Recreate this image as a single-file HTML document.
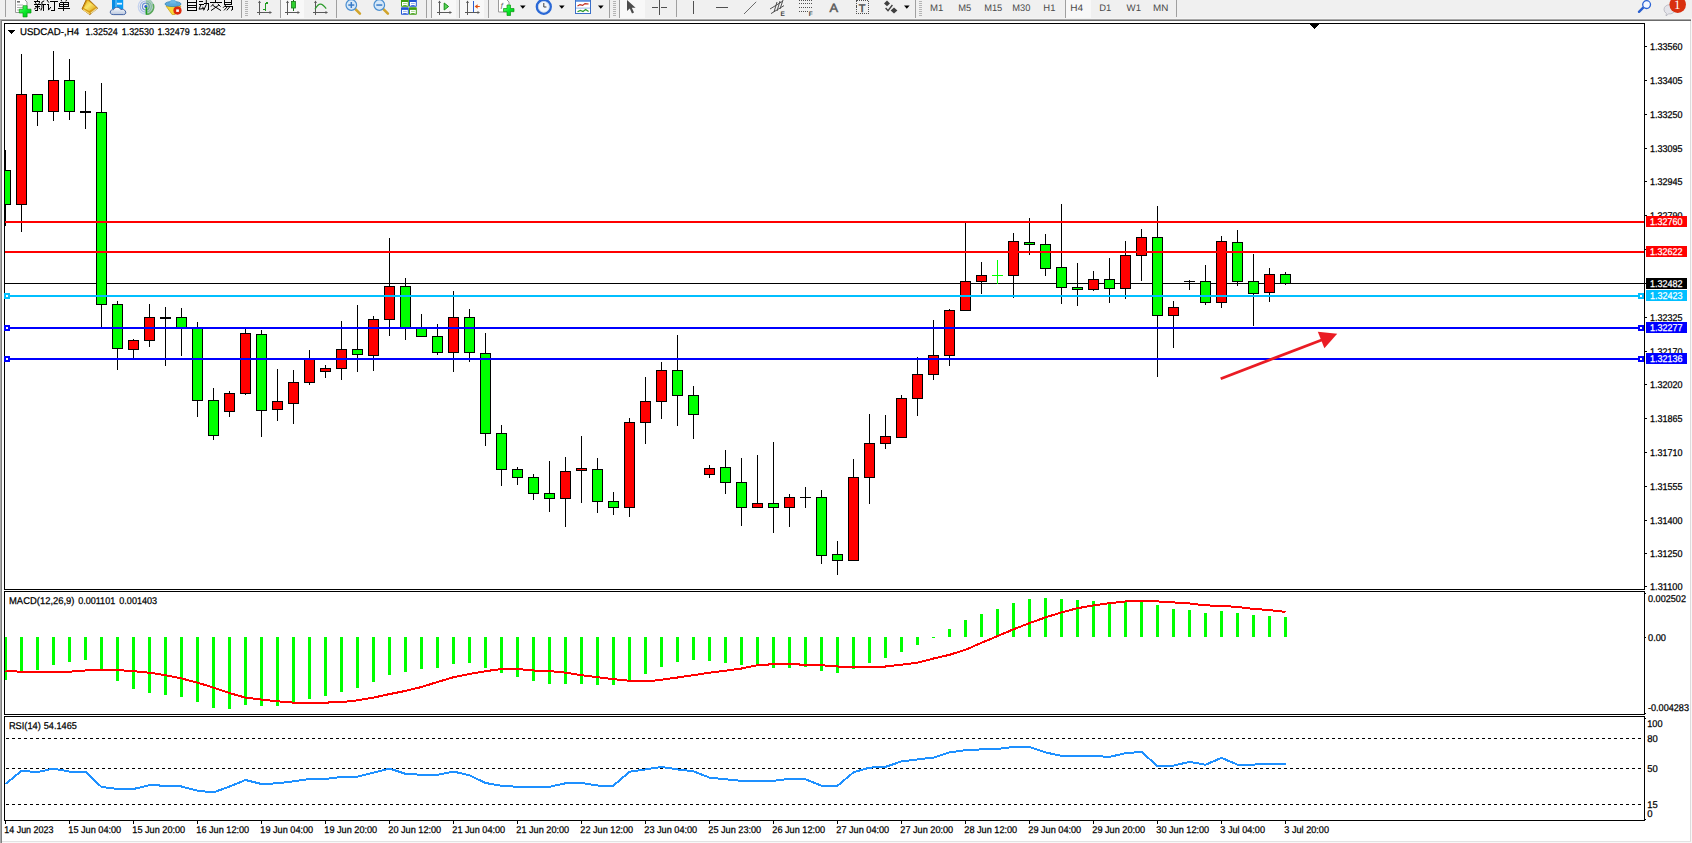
<!DOCTYPE html><html><head><meta charset="utf-8"><title>USDCAD H4</title>
<style>html,body{margin:0;padding:0;background:#fff;overflow:hidden}body{width:1692px;height:843px;position:relative;font-family:"Liberation Sans",sans-serif}svg{position:absolute;left:0;top:0;display:block}text{text-rendering:geometricPrecision;font-family:"Liberation Sans",sans-serif}</style></head><body>
<svg width="1692" height="843" viewBox="0 0 1692 843">
<rect x="0" y="0" width="1692" height="843" fill="#fff"/>
<g shape-rendering="crispEdges">
<rect x="0" y="0" width="1692" height="19" fill="#f0f0f0"/>
<rect x="0" y="19" width="1691" height="1" fill="#a8a8a8"/>
<rect x="0" y="20" width="1691" height="1" fill="#6b6b6b"/>
<rect x="0" y="18" width="1692" height="1" fill="#f5f5f5"/>
<rect x="0" y="19" width="1" height="824" fill="#a9a9a9"/>
<rect x="1" y="20" width="1" height="823" fill="#7f7f7f"/>
<rect x="1690" y="21" width="1" height="822" fill="#dcdcdc"/>
<rect x="1691" y="19" width="1" height="824" fill="#f8f8f8"/>
<rect x="2" y="841" width="1689" height="1" fill="#e3e3e3"/>
<rect x="2" y="842" width="1690" height="1" fill="#f8f8f8"/>
<rect x="4" y="23" width="1" height="567" fill="#000"/>
<rect x="4" y="591" width="1" height="124" fill="#000"/>
<rect x="4" y="716" width="1" height="105" fill="#000"/>
<rect x="1644" y="23" width="1" height="567" fill="#000"/>
<rect x="1644" y="591" width="1" height="124" fill="#000"/>
<rect x="1644" y="716" width="1" height="105" fill="#000"/>
<rect x="4" y="23" width="1641" height="1" fill="#000"/>
<rect x="4" y="589" width="1641" height="1" fill="#000"/>
<rect x="4" y="591" width="1641" height="1" fill="#000"/>
<rect x="4" y="714" width="1641" height="1" fill="#000"/>
<rect x="4" y="716" width="1641" height="1" fill="#000"/>
<rect x="4" y="820" width="1641" height="1" fill="#000"/>
</g>
<g shape-rendering="crispEdges">
<rect x="5" y="283" width="1639" height="1" fill="#000"/>
<rect x="5" y="150" width="1" height="76" fill="#000"/>
<rect x="5" y="170" width="6" height="35" fill="#000"/>
<rect x="5" y="171" width="5" height="33" fill="#00ff00"/>
<rect x="21" y="54" width="1" height="178" fill="#000"/>
<rect x="16" y="94" width="11" height="111" fill="#000"/>
<rect x="17" y="95" width="9" height="109" fill="#ff0000"/>
<rect x="37" y="94" width="1" height="32" fill="#000"/>
<rect x="32" y="94" width="11" height="18" fill="#000"/>
<rect x="33" y="95" width="9" height="16" fill="#00ff00"/>
<rect x="53" y="51" width="1" height="70" fill="#000"/>
<rect x="48" y="80" width="11" height="32" fill="#000"/>
<rect x="49" y="81" width="9" height="30" fill="#ff0000"/>
<rect x="69" y="59" width="1" height="61" fill="#000"/>
<rect x="64" y="80" width="11" height="32" fill="#000"/>
<rect x="65" y="81" width="9" height="30" fill="#00ff00"/>
<rect x="85" y="91" width="1" height="38" fill="#000"/>
<rect x="80" y="111" width="11" height="2" fill="#000"/>
<rect x="101" y="83" width="1" height="246" fill="#000"/>
<rect x="96" y="112" width="11" height="193" fill="#000"/>
<rect x="97" y="113" width="9" height="191" fill="#00ff00"/>
<rect x="117" y="301" width="1" height="69" fill="#000"/>
<rect x="112" y="304" width="11" height="45" fill="#000"/>
<rect x="113" y="305" width="9" height="43" fill="#00ff00"/>
<rect x="133" y="339" width="1" height="19" fill="#000"/>
<rect x="128" y="340" width="11" height="10" fill="#000"/>
<rect x="129" y="341" width="9" height="8" fill="#ff0000"/>
<rect x="149" y="304" width="1" height="43" fill="#000"/>
<rect x="144" y="317" width="11" height="24" fill="#000"/>
<rect x="145" y="318" width="9" height="22" fill="#ff0000"/>
<rect x="165" y="307" width="1" height="59" fill="#000"/>
<rect x="160" y="317" width="11" height="2" fill="#000"/>
<rect x="181" y="308" width="1" height="48" fill="#000"/>
<rect x="176" y="317" width="11" height="11" fill="#000"/>
<rect x="177" y="318" width="9" height="9" fill="#00ff00"/>
<rect x="197" y="322" width="1" height="95" fill="#000"/>
<rect x="192" y="328" width="11" height="73" fill="#000"/>
<rect x="193" y="329" width="9" height="71" fill="#00ff00"/>
<rect x="213" y="388" width="1" height="52" fill="#000"/>
<rect x="208" y="400" width="11" height="36" fill="#000"/>
<rect x="209" y="401" width="9" height="34" fill="#00ff00"/>
<rect x="229" y="391" width="1" height="26" fill="#000"/>
<rect x="224" y="393" width="11" height="19" fill="#000"/>
<rect x="225" y="394" width="9" height="17" fill="#ff0000"/>
<rect x="245" y="329" width="1" height="66" fill="#000"/>
<rect x="240" y="333" width="11" height="61" fill="#000"/>
<rect x="241" y="334" width="9" height="59" fill="#ff0000"/>
<rect x="261" y="330" width="1" height="107" fill="#000"/>
<rect x="256" y="334" width="11" height="77" fill="#000"/>
<rect x="257" y="335" width="9" height="75" fill="#00ff00"/>
<rect x="277" y="369" width="1" height="52" fill="#000"/>
<rect x="272" y="401" width="11" height="9" fill="#000"/>
<rect x="273" y="402" width="9" height="7" fill="#ff0000"/>
<rect x="293" y="370" width="1" height="54" fill="#000"/>
<rect x="288" y="382" width="11" height="22" fill="#000"/>
<rect x="289" y="383" width="9" height="20" fill="#ff0000"/>
<rect x="309" y="350" width="1" height="35" fill="#000"/>
<rect x="304" y="359" width="11" height="24" fill="#000"/>
<rect x="305" y="360" width="9" height="22" fill="#ff0000"/>
<rect x="325" y="365" width="1" height="13" fill="#000"/>
<rect x="320" y="368" width="11" height="4" fill="#000"/>
<rect x="321" y="369" width="9" height="2" fill="#ff0000"/>
<rect x="341" y="321" width="1" height="59" fill="#000"/>
<rect x="336" y="349" width="11" height="20" fill="#000"/>
<rect x="337" y="350" width="9" height="18" fill="#ff0000"/>
<rect x="357" y="305" width="1" height="67" fill="#000"/>
<rect x="352" y="349" width="11" height="6" fill="#000"/>
<rect x="353" y="350" width="9" height="4" fill="#00ff00"/>
<rect x="373" y="316" width="1" height="55" fill="#000"/>
<rect x="368" y="319" width="11" height="37" fill="#000"/>
<rect x="369" y="320" width="9" height="35" fill="#ff0000"/>
<rect x="389" y="238" width="1" height="98" fill="#000"/>
<rect x="384" y="286" width="11" height="34" fill="#000"/>
<rect x="385" y="287" width="9" height="32" fill="#ff0000"/>
<rect x="405" y="278" width="1" height="62" fill="#000"/>
<rect x="400" y="286" width="11" height="42" fill="#000"/>
<rect x="401" y="287" width="9" height="40" fill="#00ff00"/>
<rect x="421" y="314" width="1" height="23" fill="#000"/>
<rect x="416" y="327" width="11" height="10" fill="#000"/>
<rect x="417" y="328" width="9" height="8" fill="#00ff00"/>
<rect x="437" y="324" width="1" height="31" fill="#000"/>
<rect x="432" y="336" width="11" height="17" fill="#000"/>
<rect x="433" y="337" width="9" height="15" fill="#00ff00"/>
<rect x="453" y="291" width="1" height="81" fill="#000"/>
<rect x="448" y="317" width="11" height="36" fill="#000"/>
<rect x="449" y="318" width="9" height="34" fill="#ff0000"/>
<rect x="469" y="309" width="1" height="53" fill="#000"/>
<rect x="464" y="317" width="11" height="36" fill="#000"/>
<rect x="465" y="318" width="9" height="34" fill="#00ff00"/>
<rect x="485" y="333" width="1" height="113" fill="#000"/>
<rect x="480" y="353" width="11" height="81" fill="#000"/>
<rect x="481" y="354" width="9" height="79" fill="#00ff00"/>
<rect x="501" y="425" width="1" height="61" fill="#000"/>
<rect x="496" y="433" width="11" height="37" fill="#000"/>
<rect x="497" y="434" width="9" height="35" fill="#00ff00"/>
<rect x="517" y="467" width="1" height="18" fill="#000"/>
<rect x="512" y="469" width="11" height="9" fill="#000"/>
<rect x="513" y="470" width="9" height="7" fill="#00ff00"/>
<rect x="533" y="474" width="1" height="26" fill="#000"/>
<rect x="528" y="477" width="11" height="17" fill="#000"/>
<rect x="529" y="478" width="9" height="15" fill="#00ff00"/>
<rect x="549" y="461" width="1" height="51" fill="#000"/>
<rect x="544" y="493" width="11" height="6" fill="#000"/>
<rect x="545" y="494" width="9" height="4" fill="#00ff00"/>
<rect x="565" y="457" width="1" height="70" fill="#000"/>
<rect x="560" y="471" width="11" height="28" fill="#000"/>
<rect x="561" y="472" width="9" height="26" fill="#ff0000"/>
<rect x="581" y="436" width="1" height="67" fill="#000"/>
<rect x="576" y="468" width="11" height="3" fill="#000"/>
<rect x="577" y="469" width="9" height="1" fill="#ff0000"/>
<rect x="597" y="458" width="1" height="55" fill="#000"/>
<rect x="592" y="469" width="11" height="33" fill="#000"/>
<rect x="593" y="470" width="9" height="31" fill="#00ff00"/>
<rect x="613" y="492" width="1" height="23" fill="#000"/>
<rect x="608" y="501" width="11" height="7" fill="#000"/>
<rect x="609" y="502" width="9" height="5" fill="#00ff00"/>
<rect x="629" y="418" width="1" height="99" fill="#000"/>
<rect x="624" y="422" width="11" height="86" fill="#000"/>
<rect x="625" y="423" width="9" height="84" fill="#ff0000"/>
<rect x="645" y="377" width="1" height="67" fill="#000"/>
<rect x="640" y="401" width="11" height="22" fill="#000"/>
<rect x="641" y="402" width="9" height="20" fill="#ff0000"/>
<rect x="661" y="362" width="1" height="57" fill="#000"/>
<rect x="656" y="370" width="11" height="32" fill="#000"/>
<rect x="657" y="371" width="9" height="30" fill="#ff0000"/>
<rect x="677" y="335" width="1" height="91" fill="#000"/>
<rect x="672" y="370" width="11" height="26" fill="#000"/>
<rect x="673" y="371" width="9" height="24" fill="#00ff00"/>
<rect x="693" y="386" width="1" height="53" fill="#000"/>
<rect x="688" y="395" width="11" height="20" fill="#000"/>
<rect x="689" y="396" width="9" height="18" fill="#00ff00"/>
<rect x="709" y="465" width="1" height="13" fill="#000"/>
<rect x="704" y="468" width="11" height="7" fill="#000"/>
<rect x="705" y="469" width="9" height="5" fill="#ff0000"/>
<rect x="725" y="450" width="1" height="44" fill="#000"/>
<rect x="720" y="467" width="11" height="16" fill="#000"/>
<rect x="721" y="468" width="9" height="14" fill="#00ff00"/>
<rect x="741" y="458" width="1" height="68" fill="#000"/>
<rect x="736" y="482" width="11" height="26" fill="#000"/>
<rect x="737" y="483" width="9" height="24" fill="#00ff00"/>
<rect x="757" y="455" width="1" height="53" fill="#000"/>
<rect x="752" y="503" width="11" height="5" fill="#000"/>
<rect x="753" y="504" width="9" height="3" fill="#ff0000"/>
<rect x="773" y="442" width="1" height="91" fill="#000"/>
<rect x="768" y="503" width="11" height="5" fill="#000"/>
<rect x="769" y="504" width="9" height="3" fill="#00ff00"/>
<rect x="789" y="494" width="1" height="33" fill="#000"/>
<rect x="784" y="497" width="11" height="11" fill="#000"/>
<rect x="785" y="498" width="9" height="9" fill="#ff0000"/>
<rect x="805" y="487" width="1" height="21" fill="#000"/>
<rect x="800" y="497" width="11" height="1" fill="#000"/>
<rect x="821" y="490" width="1" height="74" fill="#000"/>
<rect x="816" y="497" width="11" height="59" fill="#000"/>
<rect x="817" y="498" width="9" height="57" fill="#00ff00"/>
<rect x="837" y="541" width="1" height="34" fill="#000"/>
<rect x="832" y="554" width="11" height="7" fill="#000"/>
<rect x="833" y="555" width="9" height="5" fill="#00ff00"/>
<rect x="853" y="459" width="1" height="102" fill="#000"/>
<rect x="848" y="477" width="11" height="84" fill="#000"/>
<rect x="849" y="478" width="9" height="82" fill="#ff0000"/>
<rect x="869" y="414" width="1" height="90" fill="#000"/>
<rect x="864" y="443" width="11" height="35" fill="#000"/>
<rect x="865" y="444" width="9" height="33" fill="#ff0000"/>
<rect x="885" y="415" width="1" height="34" fill="#000"/>
<rect x="880" y="436" width="11" height="8" fill="#000"/>
<rect x="881" y="437" width="9" height="6" fill="#ff0000"/>
<rect x="901" y="395" width="1" height="43" fill="#000"/>
<rect x="896" y="398" width="11" height="40" fill="#000"/>
<rect x="897" y="399" width="9" height="38" fill="#ff0000"/>
<rect x="917" y="357" width="1" height="59" fill="#000"/>
<rect x="912" y="374" width="11" height="25" fill="#000"/>
<rect x="913" y="375" width="9" height="23" fill="#ff0000"/>
<rect x="933" y="320" width="1" height="60" fill="#000"/>
<rect x="928" y="355" width="11" height="20" fill="#000"/>
<rect x="929" y="356" width="9" height="18" fill="#ff0000"/>
<rect x="949" y="309" width="1" height="57" fill="#000"/>
<rect x="944" y="310" width="11" height="46" fill="#000"/>
<rect x="945" y="311" width="9" height="44" fill="#ff0000"/>
<rect x="965" y="222" width="1" height="89" fill="#000"/>
<rect x="960" y="281" width="11" height="30" fill="#000"/>
<rect x="961" y="282" width="9" height="28" fill="#ff0000"/>
<rect x="981" y="262" width="1" height="32" fill="#000"/>
<rect x="976" y="275" width="11" height="7" fill="#000"/>
<rect x="977" y="276" width="9" height="5" fill="#ff0000"/>
<rect x="997" y="260" width="1" height="24" fill="#00ff00"/>
<rect x="992" y="275" width="11" height="1" fill="#00ff00"/>
<rect x="1013" y="233" width="1" height="65" fill="#000"/>
<rect x="1008" y="241" width="11" height="35" fill="#000"/>
<rect x="1009" y="242" width="9" height="33" fill="#ff0000"/>
<rect x="1029" y="218" width="1" height="37" fill="#000"/>
<rect x="1024" y="242" width="11" height="3" fill="#000"/>
<rect x="1025" y="243" width="9" height="1" fill="#00ff00"/>
<rect x="1045" y="234" width="1" height="42" fill="#000"/>
<rect x="1040" y="244" width="11" height="25" fill="#000"/>
<rect x="1041" y="245" width="9" height="23" fill="#00ff00"/>
<rect x="1061" y="204" width="1" height="100" fill="#000"/>
<rect x="1056" y="267" width="11" height="21" fill="#000"/>
<rect x="1057" y="268" width="9" height="19" fill="#00ff00"/>
<rect x="1077" y="263" width="1" height="43" fill="#000"/>
<rect x="1072" y="287" width="11" height="3" fill="#000"/>
<rect x="1073" y="288" width="9" height="1" fill="#00ff00"/>
<rect x="1093" y="271" width="1" height="20" fill="#000"/>
<rect x="1088" y="279" width="11" height="11" fill="#000"/>
<rect x="1089" y="280" width="9" height="9" fill="#ff0000"/>
<rect x="1109" y="258" width="1" height="45" fill="#000"/>
<rect x="1104" y="279" width="11" height="10" fill="#000"/>
<rect x="1105" y="280" width="9" height="8" fill="#00ff00"/>
<rect x="1125" y="241" width="1" height="58" fill="#000"/>
<rect x="1120" y="255" width="11" height="34" fill="#000"/>
<rect x="1121" y="256" width="9" height="32" fill="#ff0000"/>
<rect x="1141" y="229" width="1" height="52" fill="#000"/>
<rect x="1136" y="237" width="11" height="19" fill="#000"/>
<rect x="1137" y="238" width="9" height="17" fill="#ff0000"/>
<rect x="1157" y="206" width="1" height="171" fill="#000"/>
<rect x="1152" y="237" width="11" height="79" fill="#000"/>
<rect x="1153" y="238" width="9" height="77" fill="#00ff00"/>
<rect x="1173" y="301" width="1" height="47" fill="#000"/>
<rect x="1168" y="307" width="11" height="9" fill="#000"/>
<rect x="1169" y="308" width="9" height="7" fill="#ff0000"/>
<rect x="1189" y="280" width="1" height="10" fill="#000"/>
<rect x="1184" y="281" width="11" height="1" fill="#000"/>
<rect x="1205" y="265" width="1" height="40" fill="#000"/>
<rect x="1200" y="281" width="11" height="22" fill="#000"/>
<rect x="1201" y="282" width="9" height="20" fill="#00ff00"/>
<rect x="1221" y="236" width="1" height="72" fill="#000"/>
<rect x="1216" y="241" width="11" height="62" fill="#000"/>
<rect x="1217" y="242" width="9" height="60" fill="#ff0000"/>
<rect x="1237" y="230" width="1" height="56" fill="#000"/>
<rect x="1232" y="242" width="11" height="40" fill="#000"/>
<rect x="1233" y="243" width="9" height="38" fill="#00ff00"/>
<rect x="1253" y="254" width="1" height="72" fill="#000"/>
<rect x="1248" y="281" width="11" height="13" fill="#000"/>
<rect x="1249" y="282" width="9" height="11" fill="#00ff00"/>
<rect x="1269" y="268" width="1" height="34" fill="#000"/>
<rect x="1264" y="274" width="11" height="19" fill="#000"/>
<rect x="1265" y="275" width="9" height="17" fill="#ff0000"/>
<rect x="1285" y="272" width="1" height="13" fill="#000"/>
<rect x="1280" y="274" width="11" height="10" fill="#000"/>
<rect x="1281" y="275" width="9" height="8" fill="#00ff00"/>
</g>
<g shape-rendering="crispEdges">
<rect x="5" y="221" width="1639" height="2" fill="#ff0000"/>
<rect x="5" y="251" width="1639" height="2" fill="#ff0000"/>
<rect x="5" y="295" width="1639" height="2" fill="#00bfff"/>
<rect x="4" y="293" width="6" height="6" fill="#00bfff"/>
<rect x="6" y="295" width="2" height="2" fill="#fff"/>
<rect x="1638" y="293" width="6" height="6" fill="#00bfff"/>
<rect x="1640" y="295" width="2" height="2" fill="#fff"/>
<rect x="5" y="327" width="1639" height="2" fill="#0000ff"/>
<rect x="4" y="325" width="6" height="6" fill="#0000ff"/>
<rect x="6" y="327" width="2" height="2" fill="#fff"/>
<rect x="1638" y="325" width="6" height="6" fill="#0000ff"/>
<rect x="1640" y="327" width="2" height="2" fill="#fff"/>
<rect x="5" y="358" width="1639" height="2" fill="#0000ff"/>
<rect x="4" y="356" width="6" height="6" fill="#0000ff"/>
<rect x="6" y="358" width="2" height="2" fill="#fff"/>
<rect x="1638" y="356" width="6" height="6" fill="#0000ff"/>
<rect x="1640" y="358" width="2" height="2" fill="#fff"/>
</g>
<g shape-rendering="crispEdges">
<rect x="1645" y="46" width="2" height="1" fill="#000"/>
<rect x="1645" y="80" width="2" height="1" fill="#000"/>
<rect x="1645" y="114" width="2" height="1" fill="#000"/>
<rect x="1645" y="148" width="2" height="1" fill="#000"/>
<rect x="1645" y="181" width="2" height="1" fill="#000"/>
<rect x="1645" y="215" width="2" height="1" fill="#000"/>
<rect x="1645" y="249" width="2" height="1" fill="#000"/>
<rect x="1645" y="283" width="2" height="1" fill="#000"/>
<rect x="1645" y="317" width="2" height="1" fill="#000"/>
<rect x="1645" y="351" width="2" height="1" fill="#000"/>
<rect x="1645" y="384" width="2" height="1" fill="#000"/>
<rect x="1645" y="418" width="2" height="1" fill="#000"/>
<rect x="1645" y="452" width="2" height="1" fill="#000"/>
<rect x="1645" y="486" width="2" height="1" fill="#000"/>
<rect x="1645" y="520" width="2" height="1" fill="#000"/>
<rect x="1645" y="553" width="2" height="1" fill="#000"/>
<rect x="1645" y="586" width="2" height="1" fill="#000"/>
<rect x="1645" y="593" width="1" height="1" fill="#000"/>
<rect x="1645" y="637" width="1" height="1" fill="#000"/>
<rect x="1645" y="713" width="1" height="1" fill="#000"/>
<rect x="1645" y="718" width="1" height="1" fill="#000"/>
<rect x="1645" y="819" width="1" height="1" fill="#000"/>
</g>
<text x="1650" y="50" font-size="9.8" fill="#000" stroke="#000" stroke-width="0.25" textLength="32.5" lengthAdjust="spacingAndGlyphs" >1.33560</text>
<text x="1650" y="84" font-size="9.8" fill="#000" stroke="#000" stroke-width="0.25" textLength="32.5" lengthAdjust="spacingAndGlyphs" >1.33405</text>
<text x="1650" y="118" font-size="9.8" fill="#000" stroke="#000" stroke-width="0.25" textLength="32.5" lengthAdjust="spacingAndGlyphs" >1.33250</text>
<text x="1650" y="152" font-size="9.8" fill="#000" stroke="#000" stroke-width="0.25" textLength="32.5" lengthAdjust="spacingAndGlyphs" >1.33095</text>
<text x="1650" y="185" font-size="9.8" fill="#000" stroke="#000" stroke-width="0.25" textLength="32.5" lengthAdjust="spacingAndGlyphs" >1.32945</text>
<text x="1650" y="219" font-size="9.8" fill="#000" stroke="#000" stroke-width="0.25" textLength="32.5" lengthAdjust="spacingAndGlyphs" >1.32790</text>
<text x="1650" y="253" font-size="9.8" fill="#000" stroke="#000" stroke-width="0.25" textLength="32.5" lengthAdjust="spacingAndGlyphs" >1.32635</text>
<text x="1650" y="287" font-size="9.8" fill="#000" stroke="#000" stroke-width="0.25" textLength="32.5" lengthAdjust="spacingAndGlyphs" >1.32480</text>
<text x="1650" y="321" font-size="9.8" fill="#000" stroke="#000" stroke-width="0.25" textLength="32.5" lengthAdjust="spacingAndGlyphs" >1.32325</text>
<text x="1650" y="355" font-size="9.8" fill="#000" stroke="#000" stroke-width="0.25" textLength="32.5" lengthAdjust="spacingAndGlyphs" >1.32170</text>
<text x="1650" y="388" font-size="9.8" fill="#000" stroke="#000" stroke-width="0.25" textLength="32.5" lengthAdjust="spacingAndGlyphs" >1.32020</text>
<text x="1650" y="422" font-size="9.8" fill="#000" stroke="#000" stroke-width="0.25" textLength="32.5" lengthAdjust="spacingAndGlyphs" >1.31865</text>
<text x="1650" y="456" font-size="9.8" fill="#000" stroke="#000" stroke-width="0.25" textLength="32.5" lengthAdjust="spacingAndGlyphs" >1.31710</text>
<text x="1650" y="490" font-size="9.8" fill="#000" stroke="#000" stroke-width="0.25" textLength="32.5" lengthAdjust="spacingAndGlyphs" >1.31555</text>
<text x="1650" y="524" font-size="9.8" fill="#000" stroke="#000" stroke-width="0.25" textLength="32.5" lengthAdjust="spacingAndGlyphs" >1.31400</text>
<text x="1650" y="557" font-size="9.8" fill="#000" stroke="#000" stroke-width="0.25" textLength="32.5" lengthAdjust="spacingAndGlyphs" >1.31250</text>
<text x="1650" y="590" font-size="9.8" fill="#000" stroke="#000" stroke-width="0.25" textLength="32.5" lengthAdjust="spacingAndGlyphs" >1.31100</text>
<g shape-rendering="crispEdges">
<rect x="1646" y="216" width="41" height="11" fill="#ff0000"/>
<rect x="1646" y="246" width="41" height="11" fill="#ff0000"/>
<rect x="1646" y="290" width="41" height="11" fill="#00bfff"/>
<rect x="1646" y="322" width="41" height="11" fill="#0000ff"/>
<rect x="1646" y="353" width="41" height="11" fill="#0000ff"/>
<rect x="1646" y="278" width="41" height="11" fill="#000"/>
</g>
<text x="1650" y="225" font-size="9.8" fill="#fff" stroke="#fff" stroke-width="0.25" textLength="32.5" lengthAdjust="spacingAndGlyphs" >1.32760</text>
<text x="1650" y="255" font-size="9.8" fill="#fff" stroke="#fff" stroke-width="0.25" textLength="32.5" lengthAdjust="spacingAndGlyphs" >1.32622</text>
<text x="1650" y="299" font-size="9.8" fill="#fff" stroke="#fff" stroke-width="0.25" textLength="32.5" lengthAdjust="spacingAndGlyphs" >1.32423</text>
<text x="1650" y="331" font-size="9.8" fill="#fff" stroke="#fff" stroke-width="0.25" textLength="32.5" lengthAdjust="spacingAndGlyphs" >1.32277</text>
<text x="1650" y="362" font-size="9.8" fill="#fff" stroke="#fff" stroke-width="0.25" textLength="32.5" lengthAdjust="spacingAndGlyphs" >1.32136</text>
<text x="1650" y="287" font-size="9.8" fill="#fff" stroke="#fff" stroke-width="0.25" textLength="32.5" lengthAdjust="spacingAndGlyphs" >1.32482</text>
<line x1="1220.7" y1="378.8" x2="1323" y2="339.5" stroke="#ea1c24" stroke-width="2.8"/>
<polygon points="1337.2,333.7 1317.8,331.8 1324.4,348.2" fill="#ea1c24"/>
<g shape-rendering="crispEdges" fill="#000"><rect x="1310" y="24" width="9" height="1"/><rect x="1311" y="25" width="7" height="1"/><rect x="1312" y="26" width="5" height="1"/><rect x="1313" y="27" width="3" height="1"/><rect x="1314" y="28" width="1" height="1"/></g>
<g shape-rendering="crispEdges">
<rect x="5" y="637" width="2" height="43" fill="#00ff00"/>
<rect x="20" y="637" width="3" height="36" fill="#00ff00"/>
<rect x="36" y="637" width="3" height="33" fill="#00ff00"/>
<rect x="52" y="637" width="3" height="28" fill="#00ff00"/>
<rect x="68" y="637" width="3" height="25" fill="#00ff00"/>
<rect x="84" y="637" width="3" height="23" fill="#00ff00"/>
<rect x="100" y="637" width="3" height="32" fill="#00ff00"/>
<rect x="116" y="637" width="3" height="44" fill="#00ff00"/>
<rect x="132" y="637" width="3" height="52" fill="#00ff00"/>
<rect x="148" y="637" width="3" height="56" fill="#00ff00"/>
<rect x="164" y="637" width="3" height="58" fill="#00ff00"/>
<rect x="180" y="637" width="3" height="60" fill="#00ff00"/>
<rect x="196" y="637" width="3" height="65" fill="#00ff00"/>
<rect x="212" y="637" width="3" height="71" fill="#00ff00"/>
<rect x="228" y="637" width="3" height="72" fill="#00ff00"/>
<rect x="244" y="637" width="3" height="68" fill="#00ff00"/>
<rect x="260" y="637" width="3" height="69" fill="#00ff00"/>
<rect x="276" y="637" width="3" height="69" fill="#00ff00"/>
<rect x="292" y="637" width="3" height="65" fill="#00ff00"/>
<rect x="308" y="637" width="3" height="62" fill="#00ff00"/>
<rect x="324" y="637" width="3" height="59" fill="#00ff00"/>
<rect x="340" y="637" width="3" height="55" fill="#00ff00"/>
<rect x="356" y="637" width="3" height="51" fill="#00ff00"/>
<rect x="372" y="637" width="3" height="45" fill="#00ff00"/>
<rect x="388" y="637" width="3" height="38" fill="#00ff00"/>
<rect x="404" y="637" width="3" height="35" fill="#00ff00"/>
<rect x="420" y="637" width="3" height="32" fill="#00ff00"/>
<rect x="436" y="637" width="3" height="31" fill="#00ff00"/>
<rect x="452" y="637" width="3" height="27" fill="#00ff00"/>
<rect x="468" y="637" width="3" height="26" fill="#00ff00"/>
<rect x="484" y="637" width="3" height="31" fill="#00ff00"/>
<rect x="500" y="637" width="3" height="36" fill="#00ff00"/>
<rect x="516" y="637" width="3" height="40" fill="#00ff00"/>
<rect x="532" y="637" width="3" height="44" fill="#00ff00"/>
<rect x="548" y="637" width="3" height="47" fill="#00ff00"/>
<rect x="564" y="637" width="3" height="47" fill="#00ff00"/>
<rect x="580" y="637" width="3" height="47" fill="#00ff00"/>
<rect x="596" y="637" width="3" height="48" fill="#00ff00"/>
<rect x="612" y="637" width="3" height="48" fill="#00ff00"/>
<rect x="628" y="637" width="3" height="44" fill="#00ff00"/>
<rect x="644" y="637" width="3" height="37" fill="#00ff00"/>
<rect x="660" y="637" width="3" height="30" fill="#00ff00"/>
<rect x="676" y="637" width="3" height="25" fill="#00ff00"/>
<rect x="692" y="637" width="3" height="23" fill="#00ff00"/>
<rect x="708" y="637" width="3" height="24" fill="#00ff00"/>
<rect x="724" y="637" width="3" height="26" fill="#00ff00"/>
<rect x="740" y="637" width="3" height="28" fill="#00ff00"/>
<rect x="756" y="637" width="3" height="28" fill="#00ff00"/>
<rect x="772" y="637" width="3" height="31" fill="#00ff00"/>
<rect x="788" y="637" width="3" height="31" fill="#00ff00"/>
<rect x="804" y="637" width="3" height="30" fill="#00ff00"/>
<rect x="820" y="637" width="3" height="34" fill="#00ff00"/>
<rect x="836" y="637" width="3" height="36" fill="#00ff00"/>
<rect x="852" y="637" width="3" height="32" fill="#00ff00"/>
<rect x="868" y="637" width="3" height="26" fill="#00ff00"/>
<rect x="884" y="637" width="3" height="21" fill="#00ff00"/>
<rect x="900" y="637" width="3" height="15" fill="#00ff00"/>
<rect x="916" y="637" width="3" height="8" fill="#00ff00"/>
<rect x="932" y="637" width="3" height="1" fill="#00ff00"/>
<rect x="948" y="629" width="3" height="8" fill="#00ff00"/>
<rect x="964" y="620" width="3" height="17" fill="#00ff00"/>
<rect x="980" y="614" width="3" height="23" fill="#00ff00"/>
<rect x="996" y="609" width="3" height="28" fill="#00ff00"/>
<rect x="1012" y="603" width="3" height="34" fill="#00ff00"/>
<rect x="1028" y="599" width="3" height="38" fill="#00ff00"/>
<rect x="1044" y="598" width="3" height="39" fill="#00ff00"/>
<rect x="1060" y="599" width="3" height="38" fill="#00ff00"/>
<rect x="1076" y="600" width="3" height="37" fill="#00ff00"/>
<rect x="1092" y="601" width="3" height="36" fill="#00ff00"/>
<rect x="1108" y="602" width="3" height="35" fill="#00ff00"/>
<rect x="1124" y="602" width="3" height="35" fill="#00ff00"/>
<rect x="1140" y="602" width="3" height="35" fill="#00ff00"/>
<rect x="1156" y="605" width="3" height="32" fill="#00ff00"/>
<rect x="1172" y="609" width="3" height="28" fill="#00ff00"/>
<rect x="1188" y="610" width="3" height="27" fill="#00ff00"/>
<rect x="1204" y="613" width="3" height="24" fill="#00ff00"/>
<rect x="1220" y="611" width="3" height="26" fill="#00ff00"/>
<rect x="1236" y="613" width="3" height="24" fill="#00ff00"/>
<rect x="1252" y="615" width="3" height="22" fill="#00ff00"/>
<rect x="1268" y="616" width="3" height="21" fill="#00ff00"/>
<rect x="1284" y="617" width="3" height="20" fill="#00ff00"/>
</g>
<polyline points="5.5,671 21.5,671.7 69.5,671.7 85.5,670.5 117.5,670 133.5,671.2 149.5,672.7 165.5,675.2 181.5,678.4 197.5,682.7 213.5,687.6 229.5,693.1 245.5,697.6 261.5,699.6 277.5,701.3 293.5,702.6 309.5,702.6 325.5,702.6 341.5,702.1 357.5,700.3 373.5,697.6 389.5,694.1 405.5,690.9 421.5,687 437.5,682 453.5,677.2 469.5,674 485.5,671.2 501.5,669 517.5,669 533.5,670.5 549.5,671 565.5,672.7 581.5,675.2 597.5,677.2 613.5,679.2 629.5,680.7 645.5,680.7 653.5,680.7 661.5,679.7 677.5,677.5 693.5,675.2 709.5,672.7 725.5,670.7 741.5,668.5 757.5,665.2 773.5,664.2 789.5,664.2 805.5,664.7 821.5,665.2 837.5,666.5 885.5,666.5 901.5,664.7 917.5,662.7 933.5,658.5 949.5,654.8 965.5,649.8 981.5,642.8 997.5,636.1 1013.5,629.3 1029.5,623.1 1045.5,617.4 1061.5,612.4 1077.5,608.2 1093.5,605.4 1109.5,603.2 1125.5,601.4 1141.5,600.9 1157.5,601.4 1173.5,602.4 1189.5,603.4 1205.5,605.4 1221.5,605.8 1237.5,607 1253.5,608.9 1269.5,610.1 1285.5,611.9" fill="none" stroke="#ff0000" stroke-width="2" stroke-linejoin="round" shape-rendering="crispEdges"/>
<text x="9" y="604" font-size="9.8" fill="#000" stroke="#000" stroke-width="0.25" textLength="65.5" lengthAdjust="spacingAndGlyphs" >MACD(12,26,9)</text>
<text x="78.2" y="604" font-size="9.8" fill="#000" stroke="#000" stroke-width="0.25" textLength="37" lengthAdjust="spacingAndGlyphs" >0.001101</text>
<text x="119.3" y="604" font-size="9.8" fill="#000" stroke="#000" stroke-width="0.25" textLength="37.8" lengthAdjust="spacingAndGlyphs" >0.001403</text>
<text x="1648" y="602" font-size="9.8" fill="#000" stroke="#000" stroke-width="0.25" textLength="38" lengthAdjust="spacingAndGlyphs" >0.002502</text>
<text x="1648" y="641" font-size="9.8" fill="#000" stroke="#000" stroke-width="0.25" textLength="18" lengthAdjust="spacingAndGlyphs" >0.00</text>
<text x="1648" y="711" font-size="9.8" fill="#000" stroke="#000" stroke-width="0.25" textLength="41" lengthAdjust="spacingAndGlyphs" >-0.004283</text>
<line x1="6" y1="738.5" x2="1643" y2="738.5" stroke="#000" stroke-width="1" stroke-dasharray="3,3" shape-rendering="crispEdges"/>
<line x1="6" y1="768.5" x2="1643" y2="768.5" stroke="#000" stroke-width="1" stroke-dasharray="3,3" shape-rendering="crispEdges"/>
<line x1="6" y1="804.5" x2="1643" y2="804.5" stroke="#000" stroke-width="1" stroke-dasharray="3,3" shape-rendering="crispEdges"/>
<polyline points="5.5,784 21.5,770.8 37.5,772.1 53.5,768.6 69.5,771.6 85.5,771.6 101.5,787 117.5,789 133.5,789 149.5,785.2 165.5,785.7 181.5,786.5 197.5,790.7 213.5,792.4 229.5,786.5 245.5,780 261.5,784 277.5,783.3 293.5,781.3 309.5,779 325.5,779 341.5,777 357.5,776.6 373.5,772.6 389.5,768.6 405.5,773.8 421.5,774.8 437.5,774.8 453.5,771.6 469.5,775.3 485.5,783 501.5,785.8 517.5,786.8 533.5,786.8 549.5,786.8 565.5,783.3 581.5,783 597.5,785.5 613.5,785.5 629.5,771.8 645.5,769.4 661.5,766.9 677.5,769.4 693.5,771.3 709.5,777.6 725.5,779.3 741.5,780.8 757.5,780.8 773.5,780.8 789.5,778.8 805.5,779.3 821.5,785.8 837.5,785.8 853.5,772.3 869.5,767.6 885.5,766.9 901.5,761.4 917.5,759.4 933.5,757.6 949.5,752.4 965.5,750.2 981.5,749.4 997.5,748.9 1013.5,746.9 1029.5,746.9 1045.5,752.4 1061.5,755.9 1077.5,755.9 1093.5,755.9 1109.5,756.9 1125.5,753.2 1141.5,751.9 1157.5,766.1 1173.5,765.6 1189.5,761.9 1205.5,764.7 1221.5,757.9 1237.5,764.6 1253.5,764.6 1269.5,763.7 1285.5,763.7" fill="none" stroke="#1e90ff" stroke-width="2" stroke-linejoin="round" shape-rendering="crispEdges"/>
<text x="8.9" y="729" font-size="9.8" fill="#000" stroke="#000" stroke-width="0.25" textLength="32" lengthAdjust="spacingAndGlyphs" >RSI(14)</text>
<text x="43.8" y="729" font-size="9.8" fill="#000" stroke="#000" stroke-width="0.25" textLength="33" lengthAdjust="spacingAndGlyphs" >54.1465</text>
<text x="1647.2" y="727" font-size="9.8" fill="#000" stroke="#000" stroke-width="0.25" textLength="15.3" lengthAdjust="spacingAndGlyphs" >100</text>
<text x="1647.2" y="742" font-size="9.8" fill="#000" stroke="#000" stroke-width="0.25" textLength="10.5" lengthAdjust="spacingAndGlyphs" >80</text>
<text x="1647.2" y="772" font-size="9.8" fill="#000" stroke="#000" stroke-width="0.25" textLength="10.5" lengthAdjust="spacingAndGlyphs" >50</text>
<text x="1647.2" y="808" font-size="9.8" fill="#000" stroke="#000" stroke-width="0.25" textLength="10.5" lengthAdjust="spacingAndGlyphs" >15</text>
<text x="1647.2" y="817" font-size="9.8" fill="#000" stroke="#000" stroke-width="0.25" textLength="5.3" lengthAdjust="spacingAndGlyphs" >0</text>
<g shape-rendering="crispEdges">
<rect x="5" y="821" width="1" height="3" fill="#000"/>
<rect x="69" y="821" width="1" height="3" fill="#000"/>
<rect x="133" y="821" width="1" height="3" fill="#000"/>
<rect x="197" y="821" width="1" height="3" fill="#000"/>
<rect x="261" y="821" width="1" height="3" fill="#000"/>
<rect x="325" y="821" width="1" height="3" fill="#000"/>
<rect x="389" y="821" width="1" height="3" fill="#000"/>
<rect x="453" y="821" width="1" height="3" fill="#000"/>
<rect x="517" y="821" width="1" height="3" fill="#000"/>
<rect x="581" y="821" width="1" height="3" fill="#000"/>
<rect x="645" y="821" width="1" height="3" fill="#000"/>
<rect x="709" y="821" width="1" height="3" fill="#000"/>
<rect x="773" y="821" width="1" height="3" fill="#000"/>
<rect x="837" y="821" width="1" height="3" fill="#000"/>
<rect x="901" y="821" width="1" height="3" fill="#000"/>
<rect x="965" y="821" width="1" height="3" fill="#000"/>
<rect x="1029" y="821" width="1" height="3" fill="#000"/>
<rect x="1093" y="821" width="1" height="3" fill="#000"/>
<rect x="1157" y="821" width="1" height="3" fill="#000"/>
<rect x="1221" y="821" width="1" height="3" fill="#000"/>
<rect x="1285" y="821" width="1" height="3" fill="#000"/>
</g>
<text x="4.3" y="833" font-size="9.8" fill="#000" stroke="#000" stroke-width="0.25" textLength="49.1" lengthAdjust="spacingAndGlyphs" >14 Jun 2023</text>
<text x="68.3" y="833" font-size="9.8" fill="#000" stroke="#000" stroke-width="0.25" textLength="52.9" lengthAdjust="spacingAndGlyphs" >15 Jun 04:00</text>
<text x="132.3" y="833" font-size="9.8" fill="#000" stroke="#000" stroke-width="0.25" textLength="52.9" lengthAdjust="spacingAndGlyphs" >15 Jun 20:00</text>
<text x="196.3" y="833" font-size="9.8" fill="#000" stroke="#000" stroke-width="0.25" textLength="52.9" lengthAdjust="spacingAndGlyphs" >16 Jun 12:00</text>
<text x="260.3" y="833" font-size="9.8" fill="#000" stroke="#000" stroke-width="0.25" textLength="52.9" lengthAdjust="spacingAndGlyphs" >19 Jun 04:00</text>
<text x="324.3" y="833" font-size="9.8" fill="#000" stroke="#000" stroke-width="0.25" textLength="52.9" lengthAdjust="spacingAndGlyphs" >19 Jun 20:00</text>
<text x="388.3" y="833" font-size="9.8" fill="#000" stroke="#000" stroke-width="0.25" textLength="52.9" lengthAdjust="spacingAndGlyphs" >20 Jun 12:00</text>
<text x="452.3" y="833" font-size="9.8" fill="#000" stroke="#000" stroke-width="0.25" textLength="52.9" lengthAdjust="spacingAndGlyphs" >21 Jun 04:00</text>
<text x="516.3" y="833" font-size="9.8" fill="#000" stroke="#000" stroke-width="0.25" textLength="52.9" lengthAdjust="spacingAndGlyphs" >21 Jun 20:00</text>
<text x="580.3" y="833" font-size="9.8" fill="#000" stroke="#000" stroke-width="0.25" textLength="52.9" lengthAdjust="spacingAndGlyphs" >22 Jun 12:00</text>
<text x="644.3" y="833" font-size="9.8" fill="#000" stroke="#000" stroke-width="0.25" textLength="52.9" lengthAdjust="spacingAndGlyphs" >23 Jun 04:00</text>
<text x="708.3" y="833" font-size="9.8" fill="#000" stroke="#000" stroke-width="0.25" textLength="52.9" lengthAdjust="spacingAndGlyphs" >25 Jun 23:00</text>
<text x="772.3" y="833" font-size="9.8" fill="#000" stroke="#000" stroke-width="0.25" textLength="52.9" lengthAdjust="spacingAndGlyphs" >26 Jun 12:00</text>
<text x="836.3" y="833" font-size="9.8" fill="#000" stroke="#000" stroke-width="0.25" textLength="52.9" lengthAdjust="spacingAndGlyphs" >27 Jun 04:00</text>
<text x="900.3" y="833" font-size="9.8" fill="#000" stroke="#000" stroke-width="0.25" textLength="52.9" lengthAdjust="spacingAndGlyphs" >27 Jun 20:00</text>
<text x="964.3" y="833" font-size="9.8" fill="#000" stroke="#000" stroke-width="0.25" textLength="52.9" lengthAdjust="spacingAndGlyphs" >28 Jun 12:00</text>
<text x="1028.3" y="833" font-size="9.8" fill="#000" stroke="#000" stroke-width="0.25" textLength="52.9" lengthAdjust="spacingAndGlyphs" >29 Jun 04:00</text>
<text x="1092.3" y="833" font-size="9.8" fill="#000" stroke="#000" stroke-width="0.25" textLength="52.9" lengthAdjust="spacingAndGlyphs" >29 Jun 20:00</text>
<text x="1156.3" y="833" font-size="9.8" fill="#000" stroke="#000" stroke-width="0.25" textLength="52.9" lengthAdjust="spacingAndGlyphs" >30 Jun 12:00</text>
<text x="1220.3" y="833" font-size="9.8" fill="#000" stroke="#000" stroke-width="0.25" textLength="44.7" lengthAdjust="spacingAndGlyphs" >3 Jul 04:00</text>
<text x="1284.3" y="833" font-size="9.8" fill="#000" stroke="#000" stroke-width="0.25" textLength="44.7" lengthAdjust="spacingAndGlyphs" >3 Jul 20:00</text>
<g shape-rendering="crispEdges" fill="#000"><rect x="8" y="30" width="7" height="1"/><rect x="9" y="31" width="5" height="1"/><rect x="10" y="32" width="3" height="1"/><rect x="11" y="33" width="1" height="1"/></g>
<text x="19.9" y="35" font-size="9.8" fill="#000" stroke="#000" stroke-width="0.25" textLength="59.2" lengthAdjust="spacingAndGlyphs" >USDCAD-,H4</text>
<text x="85.5" y="35" font-size="9.8" fill="#000" stroke="#000" stroke-width="0.25" textLength="32.3" lengthAdjust="spacingAndGlyphs" >1.32524</text>
<text x="121.7" y="35" font-size="9.8" fill="#000" stroke="#000" stroke-width="0.25" textLength="32.3" lengthAdjust="spacingAndGlyphs" >1.32530</text>
<text x="157.4" y="35" font-size="9.8" fill="#000" stroke="#000" stroke-width="0.25" textLength="32.3" lengthAdjust="spacingAndGlyphs" >1.32479</text>
<text x="193.3" y="35" font-size="9.8" fill="#000" stroke="#000" stroke-width="0.25" textLength="32.3" lengthAdjust="spacingAndGlyphs" >1.32482</text>
<rect x="5" y="0" width="1" height="17" fill="#a0a0a0" shape-rendering="crispEdges"/>
<defs><linearGradient id="gPlus" x1="0" y1="0" x2="1" y2="1"><stop offset="0" stop-color="#6dff7a"/><stop offset="0.5" stop-color="#08ea2a"/><stop offset="1" stop-color="#00b818"/></linearGradient></defs>
<path d="M15.5,-1 H24 L27,2 V12.5 H15.5 Z" fill="#fff" stroke="#9a9a9a" stroke-width="1"/>
<rect x="17" y="1" width="3" height="1.6" fill="#707070"/>
<rect x="17" y="4.5" width="6" height="1" fill="#b0b0b0"/>
<rect x="17" y="7" width="6" height="1" fill="#b0b0b0"/>
<rect x="17" y="9.5" width="6" height="1" fill="#b0b0b0"/>
<path d="M23,5.7 H27.1 V9.2 H31 V13 H27.1 V16.9 H23 V13 H19.3 V9.2 H23 Z" fill="url(#gPlus)" stroke="#0a9a10" stroke-width="0.7"/>
<g stroke="#000" stroke-width="1" fill="none" shape-rendering="crispEdges">
<path d="M34,1.5 H40 M34,4.5 H40.5 M35,6.5 H40 M37.5,4.5 V10.8 M35.2,10.5 H37.5 M37.5,-1 V1 M42,4.5 H46 M43.5,4.5 V10.8"/>
<path d="M46.6,4.5 H48.5 M48.5,4.5 V10 M50.4,1.5 H57.8 M54.5,1.5 V10.5 M51.4,10.5 H54.5"/>
<path d="M59.5,2.5 H68.5 M59.5,4.5 H68.5 M59.5,6.5 H68.5 M59.5,2.5 V6.5 M68.5,2.5 V7 M63.5,2.5 V11 M58,8.5 H70"/>
<path d="M187.5,0 V10.6 M196.5,0 V10.6 M187.5,2.5 H196.5 M187.5,5.5 H196.5 M187.5,7.5 H196.5 M187.5,10.5 H196.5"/>
<path d="M199,1.5 H203 M198.5,4.5 H204 M204.3,3.5 H208.5 M208.5,3.5 V9.6"/>
<path d="M215.5,-1 V2.5 M210,2.5 H221.6"/>
<path d="M224.5,-1 V4.5 M231.5,-1 V4.5 M224.5,2.5 H231.5 M224.5,4.5 H231.5 M224.5,6.5 H232.5 M232.5,6.5 V9.6"/>
</g><g stroke="#000" stroke-width="1" fill="none">
<path d="M35.2,2 L36.2,3.9 M39.7,2 L38.7,3.9 M36.6,7.5 L34.2,9 M38.6,7.7 L40.4,9.1 M44.2,0.9 L41.6,2.3 M41.9,2.2 V7.6 L41,10.5"/>
<path d="M47,0 L48.8,2.6 M48.4,10.2 L50.9,7"/>
<path d="M60.6,-1 L61.8,1.4 M67,-1 L65.8,1.4"/>
<path d="M191.5,-1 L190.5,0"/>
<path d="M201,4.5 L199,9.2 L203,8.6 M202.6,6.8 L204,9.8 M208.5,9.4 L207,10.6 M206.3,0 V4.5 L203.6,10.4"/>
<path d="M213.5,3.8 L211,6.6 M217.8,3.8 L220.6,6.6 M218.8,5.2 L211,10.6 M212.6,5.2 L221,10.6"/>
<path d="M226,4.8 L223,7.8 M232.4,9.4 L231,10.6 M227.4,6.6 L224,10.4 M229.9,6.6 L226.8,10.4"/>
</g>
<defs><linearGradient id="gBook" x1="0" y1="0" x2="1" y2="1"><stop offset="0" stop-color="#e8b018"/><stop offset="0.45" stop-color="#f9e468"/><stop offset="1" stop-color="#dca014"/></linearGradient><linearGradient id="gCloud" x1="0" y1="0" x2="0" y2="1"><stop offset="0" stop-color="#ffffff"/><stop offset="1" stop-color="#b8c6de"/></linearGradient></defs>
<polygon points="86.6,-1 88.2,-1 97.6,8.2 89.8,14.6 82,8.9" fill="#d89c14" stroke="#a86c0c" stroke-width="1"/>
<polygon points="87.6,0.4 96,6.9 89.2,11 83.8,8" fill="url(#gBook)"/>
<line x1="83" y1="9.6" x2="89.6" y2="13.8" stroke="#f6d878" stroke-width="1.2"/><line x1="90.8" y1="13.2" x2="96.8" y2="8.6" stroke="#e8dca8" stroke-width="1.2"/>
<rect x="112" y="-1" width="11.2" height="10" fill="#0a9cf4"/><rect x="112" y="-1" width="3.6" height="10" fill="#0a8be2"/><rect x="115.6" y="-1" width="0.8" height="9" fill="#9fd6fb"/>
<rect x="117" y="2.8" width="5" height="1.8" fill="#e4f3ff"/>
<path d="M113.2,14.6 C110.6,14.6 109.6,12.4 110.6,10.9 C111.2,9.8 112.6,9.5 113.4,9.8 C113.8,8 116,7 117.8,7.4 C119.4,7.6 120.4,8.6 120.8,9.6 C122.4,8.8 124.6,9.4 125.2,11 C126.4,12 126,14.6 123.6,14.6 Z" fill="url(#gCloud)" stroke="#4565a4" stroke-width="1"/>
<g fill="none" stroke-width="1.2"><circle cx="145.8" cy="6.6" r="3.4" stroke="#6a8fd8"/><circle cx="145.8" cy="6.6" r="5.6" stroke="#9ab4e4"/><circle cx="145.8" cy="6.6" r="7.6" stroke="#c4d2ee"/></g>
<path d="M146,6.6 L146,-1.2 A7.8,7.8 0 0 1 146.4,14.4 Z" fill="#58b058" opacity="0.38"/>
<path d="M146.3,14.4 A7.6,7.6 0 0 0 153.2,4" fill="none" stroke="#5aa85a" stroke-width="1.4"/>
<circle cx="145.8" cy="6.6" r="1.5" fill="#2a5fd0"/><rect x="145.6" y="7" width="1.6" height="7.6" fill="#22a022"/>
<polygon points="166,6 181,6 175.2,14.4 172.2,14.6" fill="#f6d637" stroke="#caa21a" stroke-width="0.8"/>
<ellipse cx="173" cy="4" rx="8" ry="2.6" fill="#5aa9dc" stroke="#3a86b8" stroke-width="0.8"/><path d="M169.8,3.6 L171,-1 H175 L176.2,3.6 Z" fill="#6db8e6"/>
<circle cx="177.5" cy="10.6" r="4.1" fill="#dc2a0c"/><rect x="176.2" y="9.4" width="2.7" height="2.5" fill="#fff"/>
<rect x="241" y="0" width="1" height="18" fill="#a0a0a0" shape-rendering="crispEdges"/>
<rect x="245" y="1" width="3" height="1" fill="#b4b4b4" shape-rendering="crispEdges"/>
<rect x="245" y="3" width="3" height="1" fill="#b4b4b4" shape-rendering="crispEdges"/>
<rect x="245" y="5" width="3" height="1" fill="#b4b4b4" shape-rendering="crispEdges"/>
<rect x="245" y="7" width="3" height="1" fill="#b4b4b4" shape-rendering="crispEdges"/>
<rect x="245" y="9" width="3" height="1" fill="#b4b4b4" shape-rendering="crispEdges"/>
<rect x="245" y="11" width="3" height="1" fill="#b4b4b4" shape-rendering="crispEdges"/>
<rect x="245" y="13" width="3" height="1" fill="#b4b4b4" shape-rendering="crispEdges"/>
<rect x="245" y="15" width="3" height="1" fill="#b4b4b4" shape-rendering="crispEdges"/>
<g stroke="#5a5a5a" stroke-width="1" fill="none" shape-rendering="crispEdges"><line x1="259.5" y1="1" x2="259.5" y2="15"/><line x1="257" y1="12.5" x2="271" y2="12.5"/></g>
<polygon points="258,3 259.5,0.5 261,3" fill="#5a5a5a"/><polygon points="269.5,11 272,12.5 269.5,14" fill="#5a5a5a"/>
<path d="M265.5,2.5 V10.5 M265.5,3 H268 M263,9.5 H265.5" stroke="#1f9a1f" stroke-width="1.2" fill="none" shape-rendering="crispEdges"/>
<rect x="281" y="0" width="23" height="18" fill="#f8f8f8" shape-rendering="crispEdges"/>
<rect x="280" y="0" width="1" height="18" fill="#a0a0a0" shape-rendering="crispEdges"/>
<g stroke="#5a5a5a" stroke-width="1" fill="none" shape-rendering="crispEdges"><line x1="287.5" y1="1" x2="287.5" y2="15"/><line x1="285" y1="12.5" x2="299" y2="12.5"/></g>
<polygon points="286,3 287.5,0.5 289,3" fill="#5a5a5a"/><polygon points="297.5,11 300,12.5 297.5,14" fill="#5a5a5a"/>
<rect x="293" y="0" width="1" height="11" fill="#1a6a1a" shape-rendering="crispEdges"/><rect x="291.5" y="1.5" width="4" height="6.5" fill="#2fd02f" stroke="#1a7a1a" stroke-width="0.8"/>
<g stroke="#5a5a5a" stroke-width="1" fill="none" shape-rendering="crispEdges"><line x1="315.5" y1="1" x2="315.5" y2="15"/><line x1="313" y1="12.5" x2="327" y2="12.5"/></g>
<polygon points="314,3 315.5,0.5 317,3" fill="#5a5a5a"/><polygon points="325.5,11 328,12.5 325.5,14" fill="#5a5a5a"/>
<path d="M315,9.2 Q318,4 320.5,4.2 T326.2,8.6" fill="none" stroke="#2c9c2c" stroke-width="1.2"/>
<rect x="336" y="0" width="1" height="18" fill="#a0a0a0" shape-rendering="crispEdges"/>
<line x1="354.90000000000003" y1="8.6" x2="359.90000000000003" y2="13.6" stroke="#d1a42c" stroke-width="2.6" stroke-linecap="round"/>
<circle cx="351.3" cy="5" r="5.3" fill="#d6e8f8" stroke="#4a8ed0" stroke-width="1.2"/>
<rect x="348.3" y="4.3" width="6" height="1.5" fill="#3a7cc8"/>
<rect x="350.55" y="2" width="1.5" height="6" fill="#3a7cc8"/>
<line x1="382.90000000000003" y1="8.6" x2="387.90000000000003" y2="13.6" stroke="#d1a42c" stroke-width="2.6" stroke-linecap="round"/>
<circle cx="379.3" cy="5" r="5.3" fill="#d6e8f8" stroke="#4a8ed0" stroke-width="1.2"/>
<rect x="376.3" y="4.3" width="6" height="1.5" fill="#3a7cc8"/>
<rect x="401" y="-0.6" width="7.8" height="7.4" rx="0.8" fill="#3f9e12"/><rect x="402" y="2.0" width="5.8" height="3.8" fill="#fff"/><rect x="403" y="3.0" width="3.8" height="1" fill="#a8d890"/><rect x="403.2" y="5.2" width="3.4" height="0.8" fill="#3f9e12"/>
<rect x="409" y="-0.6" width="7.8" height="7.4" rx="0.8" fill="#2256d6"/><rect x="410" y="2.0" width="5.8" height="3.8" fill="#fff"/><rect x="411" y="3.0" width="3.8" height="1" fill="#9ab4ee"/><rect x="411.2" y="5.2" width="3.4" height="0.8" fill="#2256d6"/>
<rect x="401" y="7.3" width="7.8" height="7.4" rx="0.8" fill="#2256d6"/><rect x="402" y="9.9" width="5.8" height="3.8" fill="#fff"/><rect x="403" y="10.9" width="3.8" height="1" fill="#9ab4ee"/><rect x="403.2" y="13.1" width="3.4" height="0.8" fill="#2256d6"/>
<rect x="409" y="7.3" width="7.8" height="7.4" rx="0.8" fill="#3f9e12"/><rect x="410" y="9.9" width="5.8" height="3.8" fill="#fff"/><rect x="411" y="10.9" width="3.8" height="1" fill="#a8d890"/><rect x="411.2" y="13.1" width="3.4" height="0.8" fill="#3f9e12"/>
<rect x="426" y="0" width="1" height="18" fill="#a0a0a0" shape-rendering="crispEdges"/>
<rect x="432" y="0" width="24" height="18" fill="#f8f8f8" shape-rendering="crispEdges"/>
<rect x="431" y="0" width="1" height="18" fill="#a0a0a0" shape-rendering="crispEdges"/>
<g stroke="#5a5a5a" stroke-width="1" fill="none" shape-rendering="crispEdges"><line x1="439.5" y1="1" x2="439.5" y2="15"/><line x1="437" y1="12.5" x2="451" y2="12.5"/></g>
<polygon points="438,3 439.5,0.5 441,3" fill="#5a5a5a"/><polygon points="449.5,11 452,12.5 449.5,14" fill="#5a5a5a"/>
<polygon points="444.2,3 444.2,10 448.6,6.5" fill="#58d458" stroke="#169016" stroke-width="1"/>
<rect x="460" y="0" width="24" height="18" fill="#f8f8f8" shape-rendering="crispEdges"/>
<rect x="459" y="0" width="1" height="18" fill="#a0a0a0" shape-rendering="crispEdges"/>
<g stroke="#5a5a5a" stroke-width="1" fill="none" shape-rendering="crispEdges"><line x1="467.5" y1="1" x2="467.5" y2="15"/><line x1="465" y1="12.5" x2="479" y2="12.5"/></g>
<polygon points="466,3 467.5,0.5 469,3" fill="#5a5a5a"/><polygon points="477.5,11 480,12.5 477.5,14" fill="#5a5a5a"/>
<rect x="473" y="1" width="1" height="10.5" fill="#2a5ed0" shape-rendering="crispEdges"/><polygon points="474.6,6.5 477.6,4.2 477.6,8.8" fill="#e05010"/><rect x="477" y="6" width="2.8" height="1" fill="#e05010"/>
<rect x="488" y="0" width="1" height="18" fill="#a0a0a0" shape-rendering="crispEdges"/>
<path d="M498.5,-1 H506 L509,2 V12 H498.5 Z" fill="#fff" stroke="#9a9a9a" stroke-width="1"/>
<text x="500.6" y="9.4" font-size="8.5" font-style="italic" fill="#707070">f</text>
<path d="M507,5 H510.5 V8.5 H514 V11.7 H510.5 V15.5 H507 V11.7 H503.5 V8.5 H507 Z" fill="url(#gPlus)" stroke="#0a9a10" stroke-width="0.7"/>
<polygon points="520,5.6 525.6,5.6 522.8,8.8" fill="#000"/>
<circle cx="543.8" cy="6.8" r="6.9" fill="#f4f7fc" stroke="#2a68d6" stroke-width="2.5"/><circle cx="543.8" cy="6.8" r="5.4" fill="none" stroke="#c8d4e8" stroke-width="0.8"/><path d="M543.8,3 V7 H546.4" stroke="#404040" stroke-width="1" fill="none"/>
<polygon points="559,5.6 564.6,5.6 561.8,8.8" fill="#000"/>
<rect x="575.5" y="-0.5" width="15" height="14" fill="#fff" stroke="#3a6fc8" stroke-width="1"/><rect x="576" y="0" width="14" height="1.8" fill="#5a8fe0"/><rect x="576" y="7.6" width="14" height="1" fill="#9ab8ea"/>
<path d="M577.5,6 L580,4.6 L582.6,5.4 L585,3.6 L588.6,4" stroke="#c02a1a" stroke-width="1.2" fill="none"/><path d="M577.5,11.8 L580.4,10.4 L583,11.6 L585.6,9.6 L588.6,11.6" stroke="#2a9a2a" stroke-width="1.2" fill="none"/>
<polygon points="598,5.6 603.6,5.6 600.8,8.8" fill="#000"/>
<rect x="609" y="0" width="1" height="18" fill="#a0a0a0" shape-rendering="crispEdges"/>
<rect x="613" y="1" width="3" height="1" fill="#b4b4b4" shape-rendering="crispEdges"/>
<rect x="613" y="3" width="3" height="1" fill="#b4b4b4" shape-rendering="crispEdges"/>
<rect x="613" y="5" width="3" height="1" fill="#b4b4b4" shape-rendering="crispEdges"/>
<rect x="613" y="7" width="3" height="1" fill="#b4b4b4" shape-rendering="crispEdges"/>
<rect x="613" y="9" width="3" height="1" fill="#b4b4b4" shape-rendering="crispEdges"/>
<rect x="613" y="11" width="3" height="1" fill="#b4b4b4" shape-rendering="crispEdges"/>
<rect x="613" y="13" width="3" height="1" fill="#b4b4b4" shape-rendering="crispEdges"/>
<rect x="613" y="15" width="3" height="1" fill="#b4b4b4" shape-rendering="crispEdges"/>
<rect x="620" y="0" width="25" height="18" fill="#f8f8f8" shape-rendering="crispEdges"/>
<rect x="619" y="0" width="1" height="18" fill="#a0a0a0" shape-rendering="crispEdges"/>
<polygon points="627,0 627,11 629.8,8.6 632,13.6 634,12.6 631.8,7.8 635.6,7.8" fill="#4c4c4c"/>
<g fill="#505050" shape-rendering="crispEdges"><rect x="659" y="0" width="1" height="15"/><rect x="652" y="7" width="6" height="1"/><rect x="661" y="7" width="6" height="1"/></g>
<rect x="676" y="0" width="1" height="17" fill="#a0a0a0" shape-rendering="crispEdges"/>
<g fill="#505050" shape-rendering="crispEdges"><rect x="693" y="1" width="1" height="13"/><rect x="716" y="7" width="12" height="1"/></g>
<line x1="744" y1="14" x2="756.2" y2="1.8" stroke="#6a6a6a" stroke-width="1"/>
<g stroke="#505050" stroke-width="1" fill="none"><path d="M770,9 L783,1 M771,13.6 L784,5.6 M774,12 L777,2 M777,11 L780,1 M780,9 L783,0"/></g>
<text x="780.6" y="15.6" font-size="6.5" font-weight="bold" fill="#404040">E</text>
<line x1="799" y1="0.5" x2="812" y2="0.5" stroke="#505050" stroke-width="1" stroke-dasharray="1,1" shape-rendering="crispEdges"/>
<line x1="799" y1="3.5" x2="812" y2="3.5" stroke="#505050" stroke-width="1" stroke-dasharray="1,1" shape-rendering="crispEdges"/>
<line x1="799" y1="7" x2="812" y2="7" stroke="#505050" stroke-width="1" stroke-dasharray="1,1" shape-rendering="crispEdges"/>
<line x1="799" y1="11" x2="808" y2="11" stroke="#505050" stroke-width="1" stroke-dasharray="1,1" shape-rendering="crispEdges"/>
<text x="808.8" y="15.6" font-size="6.5" font-weight="bold" fill="#404040">F</text>
<text x="829.4" y="12" font-size="12" fill="#5a5a5a" stroke="#5a5a5a" stroke-width="0.5" textLength="8.6" lengthAdjust="spacingAndGlyphs">A</text>
<rect x="856.5" y="0.5" width="11.5" height="13" fill="none" stroke="#505050" stroke-width="1" stroke-dasharray="1,1" shape-rendering="crispEdges"/>
<text x="858.8" y="12" font-size="11" fill="#505050" stroke="#505050" stroke-width="0.5">T</text>
<polygon points="887,0.6 890,3.4 887,6.2 884,3.4" fill="#404040"/><polygon points="894,7.6 897.4,10.6 894,13.6 890.6,10.6" fill="#404040"/><path d="M885.6,8 L888,10.6 L892.4,5" stroke="#404040" stroke-width="1.4" fill="none"/>
<polygon points="904,5.6 909.6,5.6 906.8,8.8" fill="#000"/>
<rect x="915" y="0" width="1" height="18" fill="#a0a0a0" shape-rendering="crispEdges"/>
<rect x="919" y="1" width="3" height="1" fill="#b4b4b4" shape-rendering="crispEdges"/>
<rect x="919" y="3" width="3" height="1" fill="#b4b4b4" shape-rendering="crispEdges"/>
<rect x="919" y="5" width="3" height="1" fill="#b4b4b4" shape-rendering="crispEdges"/>
<rect x="919" y="7" width="3" height="1" fill="#b4b4b4" shape-rendering="crispEdges"/>
<rect x="919" y="9" width="3" height="1" fill="#b4b4b4" shape-rendering="crispEdges"/>
<rect x="919" y="11" width="3" height="1" fill="#b4b4b4" shape-rendering="crispEdges"/>
<rect x="919" y="13" width="3" height="1" fill="#b4b4b4" shape-rendering="crispEdges"/>
<rect x="919" y="15" width="3" height="1" fill="#b4b4b4" shape-rendering="crispEdges"/>
<rect x="1066" y="0" width="25" height="18" fill="#f8f8f8" shape-rendering="crispEdges"/>
<rect x="1065" y="0" width="1" height="18" fill="#a0a0a0" shape-rendering="crispEdges"/>
<text x="930.0" y="10.8" font-size="9.5" fill="#4a4a4a" textLength="13.3" lengthAdjust="spacingAndGlyphs">M1</text>
<text x="958.2" y="10.8" font-size="9.5" fill="#4a4a4a" textLength="13.0" lengthAdjust="spacingAndGlyphs">M5</text>
<text x="984.2" y="10.8" font-size="9.5" fill="#4a4a4a" textLength="18.1" lengthAdjust="spacingAndGlyphs">M15</text>
<text x="1012.3000000000001" y="10.8" font-size="9.5" fill="#4a4a4a" textLength="18.1" lengthAdjust="spacingAndGlyphs">M30</text>
<text x="1043.3" y="10.8" font-size="9.5" fill="#4a4a4a" textLength="12.1" lengthAdjust="spacingAndGlyphs">H1</text>
<text x="1070.3" y="10.8" font-size="9.5" fill="#4a4a4a" textLength="12.8" lengthAdjust="spacingAndGlyphs">H4</text>
<text x="1099.1999999999998" y="10.8" font-size="9.5" fill="#4a4a4a" textLength="12.0" lengthAdjust="spacingAndGlyphs">D1</text>
<text x="1126.6" y="10.8" font-size="9.5" fill="#4a4a4a" textLength="14.4" lengthAdjust="spacingAndGlyphs">W1</text>
<text x="1153.0" y="10.8" font-size="9.5" fill="#4a4a4a" textLength="15.3" lengthAdjust="spacingAndGlyphs">MN</text>
<rect x="1176" y="0" width="1" height="17" fill="#a0a0a0" shape-rendering="crispEdges"/>
<line x1="1643.2" y1="7.6" x2="1639" y2="11.8" stroke="#2a5fd0" stroke-width="2.4" stroke-linecap="round"/><circle cx="1646.6" cy="4.6" r="3.9" fill="#f4f8ff" stroke="#2a62d4" stroke-width="1.3"/>
<path d="M1664,9.5 a5.5,4.6 0 1 1 4.6,4.4 l-2.6,2 l0.4,-2.6 a5,4.4 0 0 1 -2.4,-3.8 Z" fill="#e4e4ea" stroke="#b4b4bc" stroke-width="0.8"/>
<circle cx="1677.7" cy="4.6" r="8.3" fill="#d9300f"/>
<text x="1674" y="9" font-family="Liberation Serif" font-size="13" fill="#fff" style="font-family:'Liberation Serif',serif">1</text>
</svg></body></html>
